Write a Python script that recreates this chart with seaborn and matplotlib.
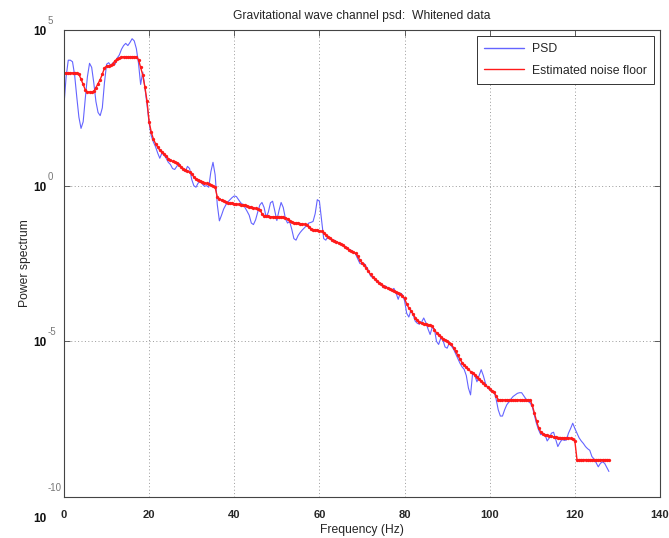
import numpy as np
import pandas as pd
import matplotlib
matplotlib.use("Agg")
import matplotlib.pyplot as plt
from matplotlib.lines import Line2D
from matplotlib.ticker import NullLocator
import seaborn as sns

# Frequency bins (Hz), 0.5 Hz resolution
freq_step = 0.5
freq_max = 128.0

# PSD of the whitened gravitational-wave channel, as log10(power), one row per 5 Hz
psd_log10 = [
    2.60, 3.50, 4.03, 4.03, 3.98, 3.55, 2.85, 2.20, 1.84, 2.05,
    2.80, 3.50, 3.93, 3.80, 3.30, 2.70, 2.35, 2.25, 2.50, 3.30,
    3.90, 3.95, 3.85, 3.95, 3.90, 4.10, 4.20, 4.38, 4.50, 4.57,
    4.50, 4.60, 4.72, 4.65, 4.40, 3.93, 3.25, 3.65, 3.15, 2.60,
    2.00, 1.60, 1.40, 1.25, 1.05, 0.88, 1.05, 0.98, 0.88, 0.75,
    0.68, 0.55, 0.52, 0.62, 0.72, 0.60, 0.52, 0.45, 0.62, 0.55,
    0.20, 0.00, -0.05, 0.08, 0.15, 0.05, -0.02, 0.00, -0.05, 0.45,
    0.75, 0.35, -0.60, -1.13, -0.95, -0.75, -0.62, -0.52, -0.45, -0.38,
    -0.33, -0.35, -0.45, -0.55, -0.60, -0.70, -0.82, -0.95, -1.20, -1.25,
    -1.10, -0.85, -0.62, -0.54, -0.70, -1.02, -0.85, -0.55, -0.50, -0.80,
    -1.12, -0.80, -0.54, -0.70, -1.05, -1.20, -1.15, -1.40, -1.70, -1.75,
    -1.60, -1.50, -1.42, -1.35, -1.28, -1.20, -1.18, -1.15, -0.90, -0.45,
    -0.50, -1.10, -1.70, -1.75, -1.62, -1.68, -1.78, -1.75, -1.80, -1.85,
    -1.88, -1.90, -1.95, -2.00, -2.05, -2.08, -2.12, -2.20, -2.35, -2.50,
    -2.52, -2.50, -2.60, -2.72, -2.90, -2.95, -2.98, -3.10, -3.10, -3.15,
    -3.28, -3.22, -3.27, -3.32, -3.35, -3.30, -3.45, -3.65, -3.45, -3.50,
    -3.70, -4.10, -4.22, -4.00, -4.15, -4.35, -4.42, -4.45, -4.38, -4.25,
    -4.40, -4.60, -4.78, -4.55, -4.60, -5.00, -5.10, -4.90, -4.95, -5.18,
    -5.22, -5.05, -5.15, -5.25, -5.40, -5.55, -5.70, -5.82, -5.90, -6.10,
    -6.50, -6.72, -6.00, -6.10, -6.30, -6.10, -5.91, -6.10, -6.35, -6.50,
    -6.55, -6.60, -6.62, -6.85, -7.20, -7.40, -7.40, -7.20, -7.04, -6.95,
    -6.85, -6.77, -6.72, -6.67, -6.65, -6.65, -6.75, -6.85, -6.92, -6.98,
    -7.10, -7.38, -7.65, -7.85, -8.00, -7.95, -8.00, -8.20, -8.10, -7.95,
    -7.92, -8.15, -8.38, -8.25, -8.15, -8.18, -8.17, -7.95, -7.80, -7.63,
    -7.80, -7.95, -8.10, -8.20, -8.28, -8.38, -8.45, -8.50, -8.70, -8.78,
    -8.90, -9.03, -8.92, -8.87, -8.92, -9.05, -9.18,
]

# Estimated noise floor, as log10(power), same bins
floor_log10 = [
    3.62, 3.62, 3.62, 3.62, 3.62, 3.62, 3.62, 3.58, 3.42, 3.25,
    3.08, 3.01, 3.01, 3.01, 3.03, 3.15, 3.28, 3.41, 3.58, 3.78,
    3.84, 3.85, 3.86, 3.92, 4.02, 4.06, 4.10, 4.13, 4.14, 4.14,
    4.14, 4.14, 4.14, 4.14, 4.14, 4.05, 3.80, 3.55, 3.17, 2.72,
    2.05, 1.72, 1.50, 1.35, 1.24, 1.14, 1.07, 1.02, 0.95, 0.87,
    0.81, 0.78, 0.75, 0.72, 0.66, 0.60, 0.55, 0.51, 0.47, 0.43,
    0.38, 0.28, 0.22, 0.19, 0.16, 0.13, 0.10, 0.07, 0.04, 0.02,
    -0.02, -0.05, -0.36, -0.42, -0.46, -0.50, -0.53, -0.55, -0.56, -0.57,
    -0.58, -0.59, -0.60, -0.61, -0.62, -0.63, -0.65, -0.67, -0.69, -0.71,
    -0.73, -0.75, -0.77, -0.90, -0.97, -0.98, -0.99, -1.00, -1.00, -1.00,
    -1.00, -1.01, -1.01, -1.02, -1.03, -1.06, -1.12, -1.17, -1.19, -1.20,
    -1.21, -1.22, -1.23, -1.24, -1.27, -1.32, -1.38, -1.41, -1.42, -1.43,
    -1.45, -1.47, -1.52, -1.58, -1.64, -1.69, -1.73, -1.77, -1.80, -1.83,
    -1.87, -1.92, -1.97, -2.01, -2.06, -2.10, -2.14, -2.17, -2.27, -2.40,
    -2.48, -2.56, -2.66, -2.75, -2.85, -2.93, -2.99, -3.05, -3.12, -3.17,
    -3.21, -3.25, -3.29, -3.33, -3.36, -3.39, -3.42, -3.44, -3.48, -3.53,
    -3.62, -3.80, -3.93, -4.02, -4.12, -4.24, -4.33, -4.38, -4.41, -4.43,
    -4.45, -4.46, -4.48, -4.52, -4.62, -4.73, -4.80, -4.86, -4.91, -4.95,
    -5.00, -5.05, -5.10, -5.20, -5.32, -5.45, -5.57, -5.68, -5.77, -5.84,
    -5.90, -5.97, -6.03, -6.08, -6.14, -6.20, -6.27, -6.33, -6.40, -6.47,
    -6.53, -6.58, -6.64, -6.75, -6.87, -6.88, -6.88, -6.88, -6.88, -6.88,
    -6.88, -6.88, -6.88, -6.88, -6.88, -6.88, -6.88, -6.88, -6.88, -6.88,
    -7.05, -7.30, -7.56, -7.78, -7.92, -7.97, -8.00, -8.02, -8.04, -8.05,
    -8.07, -8.08, -8.09, -8.09, -8.10, -8.10, -8.10, -8.10, -8.12, -8.15,
    -8.20, -8.80, -8.80, -8.80, -8.80, -8.80, -8.80, -8.80, -8.80, -8.80,
    -8.80, -8.80, -8.80, -8.80, -8.80, -8.80, -8.80,
]

x_ticks = [0, 20, 40, 60, 80, 100, 120, 140]
y_exponents = [5, 0, -5, -10]

title_text = "Gravitational wave channel psd:  Whitened data"
x_label = "Frequency (Hz)"
y_label = "Power spectrum"
series_names = ["PSD", "Estimated noise floor"]

freq = np.arange(0.0, freq_max + freq_step / 2, freq_step)
df = pd.DataFrame({
    "freq": freq,
    "psd": 10.0 ** np.array(psd_log10),
    "floor": 10.0 ** np.array(floor_log10),
})

sns.set_theme(style="white")
plt.rcParams["font.family"] = ["Liberation Sans", "DejaVu Sans"]

blue = "#6464ff"
red = "#ff1a1a"

fig = plt.figure(figsize=(6.69, 5.38), dpi=100)
ax = fig.add_axes([64 / 669, 1 - 497 / 538, (660 - 64) / 669, (497 - 30) / 538])

sns.lineplot(data=df, x="freq", y="psd", ax=ax, color=blue, linewidth=0.8,
             estimator=None, sort=False)
sns.lineplot(data=df, x="freq", y="floor", ax=ax, color=red, linewidth=1.0,
             marker="o", markersize=2.4, markeredgewidth=0, estimator=None, sort=False)

ax.set_yscale("log")
ax.set_xlim(0, 140)
ax.set_ylim(10.0 ** min(y_exponents), 10.0 ** max(y_exponents))
ax.set_xticks(x_ticks)
ax.set_xticklabels([str(t) for t in x_ticks], fontsize=8, fontweight="bold")
ax.set_yticks([10.0 ** e for e in y_exponents])
ax.set_yticklabels([])
ax.yaxis.set_minor_locator(NullLocator())
ax.tick_params(axis="both", direction="in", length=4, width=0.6, color="#444444",
               pad=9, top=True, right=True)
ax.tick_params(axis="y", left=True)

# Power-of-ten labels drawn as base plus raised exponent
for e in y_exponents:
    base_dy = -22 if e == min(y_exponents) else -2
    ax.annotate("10", xy=(0, 10.0 ** e), xycoords=("axes fraction", "data"),
                xytext=(-17, base_dy), textcoords="offset pixels",
                ha="right", va="center", fontsize=8.5, fontweight="bold", color="#111111")
    ax.annotate(str(e), xy=(0, 10.0 ** e), xycoords=("axes fraction", "data"),
                xytext=(-16, 9), textcoords="offset pixels",
                ha="left", va="center", fontsize=7, color="#777777")

ax.grid(True, which="major", linestyle=(0, (1, 2.5)), color="#9a9a9a", linewidth=0.7)
for side in ["left", "right", "top", "bottom"]:
    ax.spines[side].set_visible(True)
    ax.spines[side].set_color("#444444")
    ax.spines[side].set_linewidth(0.8)

ax.set_xlabel(x_label, fontsize=8.7, labelpad=3)
ax.set_ylabel(y_label, fontsize=8.7, labelpad=15)
ax.set_title(title_text, fontsize=8.7, pad=8)

handles = [Line2D([], [], color=blue, linewidth=1.0),
           Line2D([], [], color=red, linewidth=1.0)]
leg = ax.legend(handles, series_names, loc="upper right", fontsize=8.8,
                frameon=True, fancybox=False, framealpha=1, edgecolor="#333333",
                handlelength=3.3, borderaxespad=0.5, borderpad=0.6, labelspacing=0.75,
                handletextpad=0.6)
leg.get_frame().set_linewidth(0.7)

fig.savefig("out.png", dpi=100)
